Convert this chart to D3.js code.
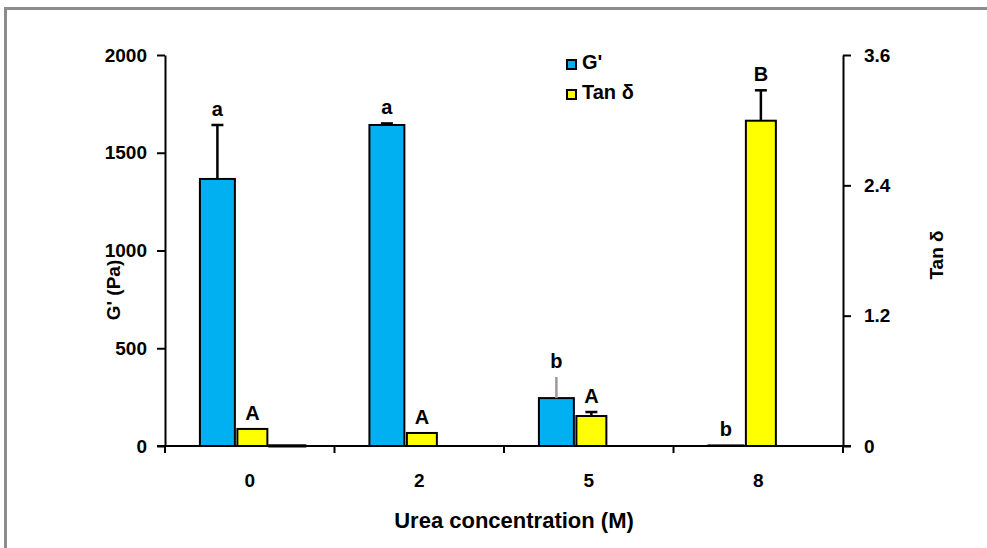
<!DOCTYPE html>
<html>
<head>
<meta charset="utf-8">
<script src="https://cdn.jsdelivr.net/npm/d3@7"></script>
<style>
  html, body { margin: 0; padding: 0; background: #fff; }
  svg { display: block; font-family: Arial, "Liberation Sans", sans-serif; }
</style>
</head>
<body>
<svg id="chart" width="987" height="548"></svg>
<script>
// Urea concentration groups (M)
const categories = ["0", "2", "5", "8"];

// Storage modulus G' (Pa), left axis
const gPrime = [1366, 1642, 245, 3];
const gPrimeErr = [276, 8, 108, 0];
const gPrimeLetters = ["a", "a", "b", "b"];

// Loss tangent Tan δ, right axis
const tanDelta = [0.157, 0.12, 0.276, 2.995];
const tanDeltaErr = [0, 0, 0.037, 0.28];
const tanDeltaLetters = ["A", "A", "A", "B"];

// Empty third series of the cluster (only a stub in the first group)
const spacer = [0.002, null, null, null];

// Axis ticks
const leftTicks = [0, 500, 1000, 1500, 2000];
const rightTicks = [0, 1.2, 2.4, 3.6];

const svg = d3.select("#chart");
const W = 987, H = 548;
const plot = { left: 165, right: 843, top: 55, bottom: 446 };

// Outer chart frame (open on right and bottom edges)
svg.append("path")
  .attr("d", `M5.5,${H + 5} V8.5 H${W + 5}`)
  .attr("fill", "none").attr("stroke", "#8c8c8c").attr("stroke-width", 3);

const x = d3.scaleBand().domain(categories).range([plot.left, plot.right]).padding(0);
// Three slots per group: G', Tan δ, spacer
const slot = d3.scaleBand().domain([0, 1, 2])
  .range([x.bandwidth() * 0.206, x.bandwidth() * 0.825]).padding(0);

const yL = d3.scaleLinear().domain([0, 2000]).range([plot.bottom, plot.top]);
const yR = d3.scaleLinear().domain([0, 3.6]).range([plot.bottom, plot.top]);

const BLUE = "#00b0f0", YELLOW = "#ffff00";
const font = "Arial, 'Liberation Sans', sans-serif";

// ---- bars ----
const g = svg.append("g");
const yellowInset = 2.5;

categories.forEach((c, i) => {
  const bx = x(c) + slot(0);
  g.append("rect")
    .attr("x", bx).attr("width", slot.bandwidth())
    .attr("y", yL(gPrime[i])).attr("height", yL(0) - yL(gPrime[i]))
    .attr("fill", BLUE).attr("stroke", "#000").attr("stroke-width", 2);

  const tx = x(c) + slot(1) + yellowInset;
  g.append("rect")
    .attr("x", tx).attr("width", slot.bandwidth() - 2 * yellowInset)
    .attr("y", yR(tanDelta[i])).attr("height", yR(0) - yR(tanDelta[i]))
    .attr("fill", YELLOW).attr("stroke", "#000").attr("stroke-width", 2);

  if (spacer[i] != null) {
    const sx = x(c) + slot(2);
    g.append("rect")
      .attr("x", sx).attr("width", slot.bandwidth())
      .attr("y", yR(spacer[i])).attr("height", yR(0) - yR(spacer[i]))
      .attr("fill", "#000").attr("stroke", "#000").attr("stroke-width", 3);
  }
});

// ---- error bars (upper only) ----
function errorBar(cx, yBase, yTop, color, cap) {
  g.append("line").attr("x1", cx).attr("x2", cx).attr("y1", yBase).attr("y2", yTop)
    .attr("stroke", color).attr("stroke-width", 2.5);
  if (cap) {
    g.append("line").attr("x1", cx - 6).attr("x2", cx + 6).attr("y1", yTop).attr("y2", yTop)
      .attr("stroke", color).attr("stroke-width", 2.5);
  }
}

categories.forEach((c, i) => {
  const gx = x(c) + slot(0) + slot.bandwidth() / 2;
  if (gPrimeErr[i] > 0) {
    // the 5 M error bar is drawn in grey without a cap
    const faded = c === "5";
    errorBar(gx, yL(gPrime[i]), yL(gPrime[i] + gPrimeErr[i]), faded ? "#9a9a9a" : "#000", !faded);
  }
  const tx = x(c) + slot(1) + slot.bandwidth() / 2;
  if (tanDeltaErr[i] > 0) {
    errorBar(tx, yR(tanDelta[i]), yR(tanDelta[i] + tanDeltaErr[i]), "#000", true);
  }
});

// ---- significance letters ----
const letterGap = 9;
categories.forEach((c, i) => {
  const gx = x(c) + slot(0) + slot.bandwidth() / 2;
  svg.append("text")
    .attr("x", gx).attr("y", yL(gPrime[i] + gPrimeErr[i]) - letterGap)
    .attr("text-anchor", "middle").attr("font-size", 20).attr("font-weight", "bold")
    .attr("font-family", font).text(gPrimeLetters[i]);
  const tx = x(c) + slot(1) + slot.bandwidth() / 2;
  svg.append("text")
    .attr("x", tx).attr("y", yR(tanDelta[i] + tanDeltaErr[i]) - letterGap)
    .attr("text-anchor", "middle").attr("font-size", 20).attr("font-weight", "bold")
    .attr("font-family", font).text(tanDeltaLetters[i]);
});

// ---- axes ----
const axisStyle = sel => {
  sel.selectAll("path.domain").attr("stroke", "#000").attr("stroke-width", 2);
  sel.selectAll(".tick line").attr("stroke", "#000").attr("stroke-width", 2);
  sel.selectAll(".tick text").attr("fill", "#000").attr("font-size", 19)
    .attr("font-weight", "bold").attr("font-family", font);
};

svg.append("g").attr("transform", `translate(${plot.left},0)`)
  .call(d3.axisLeft(yL).tickValues(leftTicks).tickFormat(d3.format("d"))
    .tickSize(8).tickSizeOuter(0).tickPadding(10))
  .call(axisStyle);

svg.append("g").attr("transform", `translate(${plot.right},0)`)
  .call(d3.axisRight(yR).tickValues(rightTicks)
    .tickFormat(d => d === 0 ? "0" : d3.format(".1f")(d))
    .tickSize(8).tickSizeOuter(0).tickPadding(13))
  .call(axisStyle);

// category axis: ticks sit on group boundaries, labels at group centres
const xAxis = svg.append("g").attr("transform", `translate(0,${plot.bottom})`);
xAxis.append("line").attr("x1", plot.left - 8).attr("x2", plot.right + 8)
  .attr("y1", 0).attr("y2", 0).attr("stroke", "#000").attr("stroke-width", 2);
const bounds = categories.map(c => x(c)).concat([plot.right]);
xAxis.selectAll("line.tk").data(bounds).join("line").attr("class", "tk")
  .attr("x1", d => d).attr("x2", d => d).attr("y1", 0).attr("y2", 7)
  .attr("stroke", "#000").attr("stroke-width", 2);
xAxis.selectAll("text").data(categories).join("text")
  .attr("x", d => x(d) + x.bandwidth() / 2).attr("y", 41)
  .attr("text-anchor", "middle").attr("font-size", 19).attr("font-weight", "bold")
  .attr("font-family", font).text(d => d);

// axis titles
svg.append("text").attr("x", 514).attr("y", 528)
  .attr("text-anchor", "middle").attr("font-size", 22).attr("font-weight", "bold")
  .attr("font-family", font).text("Urea concentration (M)");

svg.append("text").attr("transform", "translate(120,290) rotate(-90)")
  .attr("text-anchor", "middle").attr("font-size", 19).attr("font-weight", "bold")
  .attr("font-family", font).text("G' (Pa)");

svg.append("text").attr("transform", "translate(943,255) rotate(-90)")
  .attr("text-anchor", "middle").attr("font-size", 19).attr("font-weight", "bold")
  .attr("font-family", font).text("Tan δ");

// ---- legend ----
const legend = svg.append("g").attr("transform", "translate(567,60)");
[["G'", BLUE], ["Tan δ", YELLOW]].forEach(([label, color], k) => {
  legend.append("rect").attr("x", 0).attr("y", k * 30).attr("width", 9).attr("height", 9)
    .attr("fill", color).attr("stroke", "#000").attr("stroke-width", 2);
  legend.append("text").attr("x", 15).attr("y", k * 30 + 9)
    .attr("font-size", 20).attr("font-weight", "bold").attr("font-family", font).text(label);
});
</script>
</body>
</html>
